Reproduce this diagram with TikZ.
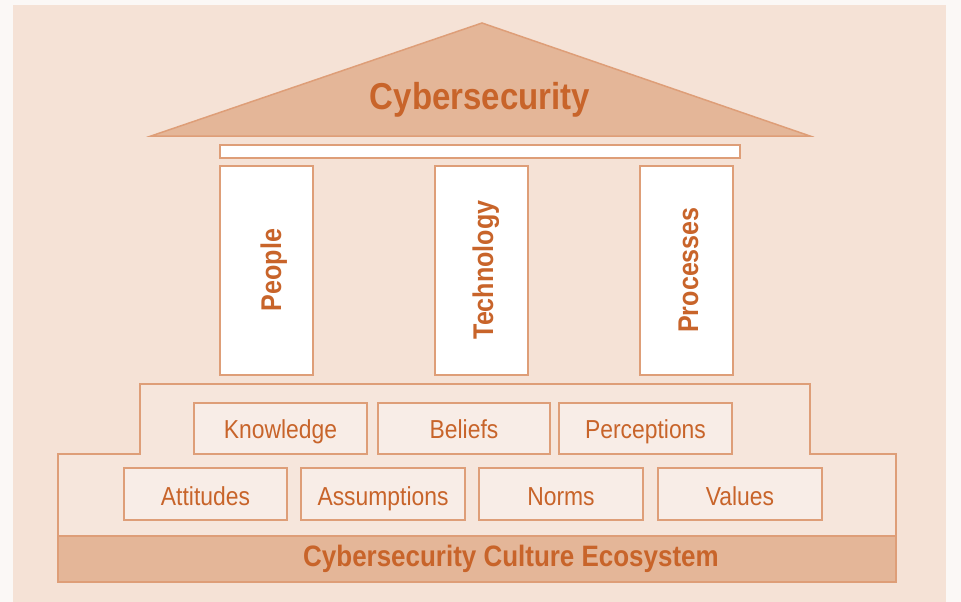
\documentclass[tikz,border=0pt]{standalone}
\usepackage{fontspec}
\setmainfont{Liberation Sans}[FakeStretch=0.88]
\definecolor{pagebg}{HTML}{FBF8F6}
\definecolor{bgc}{HTML}{F5E2D6}
\definecolor{roofc}{HTML}{E4B698}
\definecolor{edgec}{HTML}{DE9E78}
\definecolor{txtc}{HTML}{C8642A}
\definecolor{boxc}{HTML}{F8EDE7}
\definecolor{basec}{HTML}{F6E6DC}
\tikzset{
  part/.style={draw=edgec, line width=1.5pt},
  lbl/.style={part, fill=boxc, inner sep=0pt},
  lbltxt/.style={text=txtc, font=\fontsize{26}{30}\selectfont, anchor=base},
  coltxt/.style={text=txtc, font=\bfseries\fontsize{28.5}{32}\selectfont, anchor=base, rotate=90},
}
\begin{document}
\begin{tikzpicture}[x=1pt,y=-1pt]
\useasboundingbox (0,0) rectangle (961,602);
\fill[pagebg] (0,0) rectangle (961,602);
\fill[bgc] (13,5) rectangle (946,602);
% roof
\draw[part, fill=roofc, line join=miter] (482,23) -- (810,136) -- (151,136) -- cycle;
\node[text=txtc, font=\bfseries\fontsize{37.5}{42}\selectfont, anchor=base] (title) at (480,110) {Cybersecurity};
% beam
\draw[part, fill=white] (220,145) rectangle (740,158);
% columns
\draw[part, fill=white] (220,166) rectangle (313,375);
\draw[part, fill=white] (435,166) rectangle (528,375);
\draw[part, fill=white] (640,166) rectangle (733,375);
\node[coltxt] (people) at (281,270) {People};
\node[coltxt] (tech) at (493,270) {Technology};
\node[coltxt] (proc) at (698,270) {Processes};
% base
\draw[part, fill=basec] (58,454) -- (140,454) -- (140,384) -- (810,384) -- (810,454) -- (896,454) -- (896,582) -- (58,582) -- cycle;
\draw[part, fill=roofc] (58,536) rectangle (896,582);
\node[text=txtc, font=\bfseries\fontsize{29.5}{33}\selectfont, anchor=base] (eco) at (511,566) {Cybersecurity Culture Ecosystem};
% row 1
\draw[lbl] (194,403) rectangle (367,454);
\draw[lbl] (378,403) rectangle (550,454);
\draw[lbl] (559,403) rectangle (732,454);
\node[lbltxt] (know) at (280.5,438) {Knowledge};
\node[lbltxt] (beli) at (464,438) {Beliefs};
\node[lbltxt] (perc) at (645.5,438) {Perceptions};
% row 2
\draw[lbl] (124,468) rectangle (287,520);
\draw[lbl] (301,468) rectangle (465,520);
\draw[lbl] (479,468) rectangle (643,520);
\draw[lbl] (658,468) rectangle (822,520);
\node[lbltxt] (att) at (205.5,505) {Attitudes};
\node[lbltxt] (ass) at (383,505) {Assumptions};
\node[lbltxt] (norm) at (561,505) {Norms};
\node[lbltxt] (val) at (740,505) {Values};
\end{tikzpicture}
\end{document}
